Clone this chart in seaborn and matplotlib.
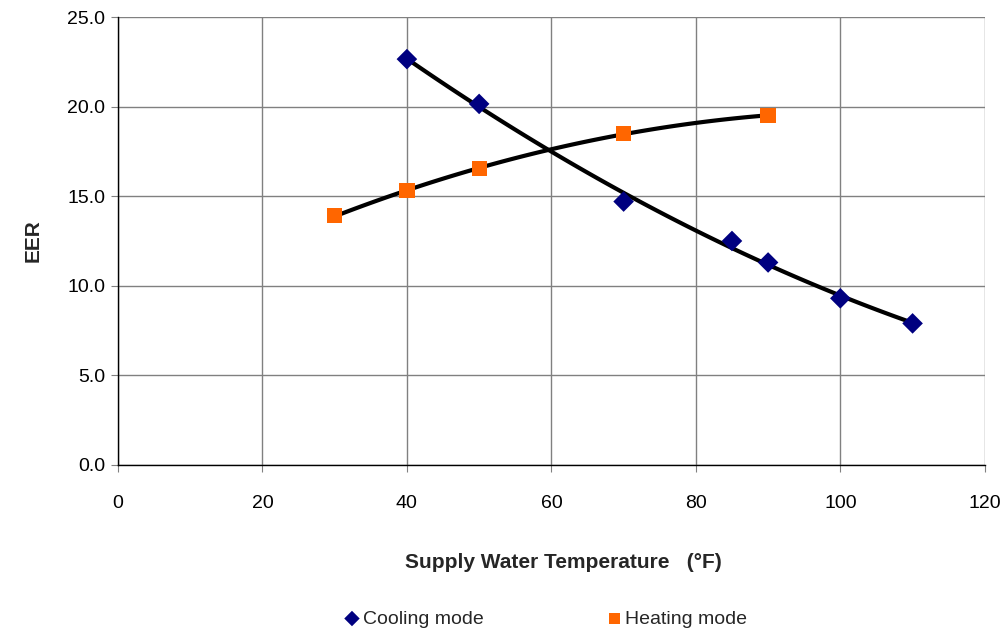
import numpy as np
import pandas as pd
import matplotlib
matplotlib.use("Agg")
import matplotlib.pyplot as plt
import seaborn as sns

sns.set_style("white")
plt.rcParams['font.family'] = ['Liberation Sans', 'DejaVu Sans']

# data
cool_temp = [40, 50, 70, 85, 90, 100, 110]
cool_eer = [22.65, 20.15, 14.7, 12.5, 11.3, 9.3, 7.9]
heat_temp = [30, 40, 50, 70, 90]
heat_eer = [13.9, 15.3, 16.55, 18.5, 19.5]

cool = pd.DataFrame({'temp': cool_temp, 'eer': cool_eer})
heat = pd.DataFrame({'temp': heat_temp, 'eer': heat_eer})

fig = plt.figure(figsize=(10.08, 6.3), dpi=100)
ax = fig.add_axes([0.117, 0.262, 0.86, 0.711])

# polynomial trendlines (order 2), like the spreadsheet trendline
sns.regplot(data=cool, x='temp', y='eer', order=2, ci=None, scatter=False,
            color='black', line_kws={'lw': 3, 'solid_capstyle': 'round'}, ax=ax)
sns.regplot(data=heat, x='temp', y='eer', order=2, ci=None, scatter=False,
            color='black', line_kws={'lw': 3, 'solid_capstyle': 'round'}, ax=ax)

sns.scatterplot(data=cool, x='temp', y='eer', marker='D', s=110, color='#000080',
                edgecolor='none', ax=ax, label='Cooling mode', zorder=3)
sns.scatterplot(data=heat, x='temp', y='eer', marker='s', s=120, color='#FF6600',
                edgecolor='none', ax=ax, label='Heating mode', zorder=3)

ax.set_xlim(0, 120)
ax.set_ylim(0, 25)
ax.set_xticks(range(0, 121, 20))
ax.set_yticks(np.arange(0, 25.1, 5))
ax.set_yticklabels([f"{v:.1f}" for v in np.arange(0, 25.1, 5)])
ax.grid(True, color='#808080', lw=1)
ax.set_axisbelow(True)

for side in ['top', 'right']:
    ax.spines[side].set_visible(False)
for side in ['left', 'bottom']:
    ax.spines[side].set_color('black')
    ax.spines[side].set_linewidth(1)

ax.tick_params(axis='both', labelsize=14, labelcolor='black', color='#808080',
               length=5, direction='out', left=True, bottom=True)
ax.tick_params(axis='x', pad=17)
ax.tick_params(axis='y', pad=4)

ax.set_xlabel('Supply Water Temperature   (°F)', fontsize=15, fontweight='bold')
ax.xaxis.set_label_coords(0.514, -0.197)
ax.set_ylabel('EER', fontsize=15, fontweight='bold')
ax.yaxis.set_label_coords(-0.087, 0.5)

ax.get_legend().remove()
handles, labels = ax.get_legend_handles_labels()
fig.legend(handles, labels, loc='lower center', bbox_to_anchor=(0.54, -0.024), ncol=2,
           frameon=False, fontsize=14, columnspacing=6.2, handletextpad=0.0,
           handlelength=1.1, markerscale=0.75)

fig.savefig('out.png', dpi=100)
